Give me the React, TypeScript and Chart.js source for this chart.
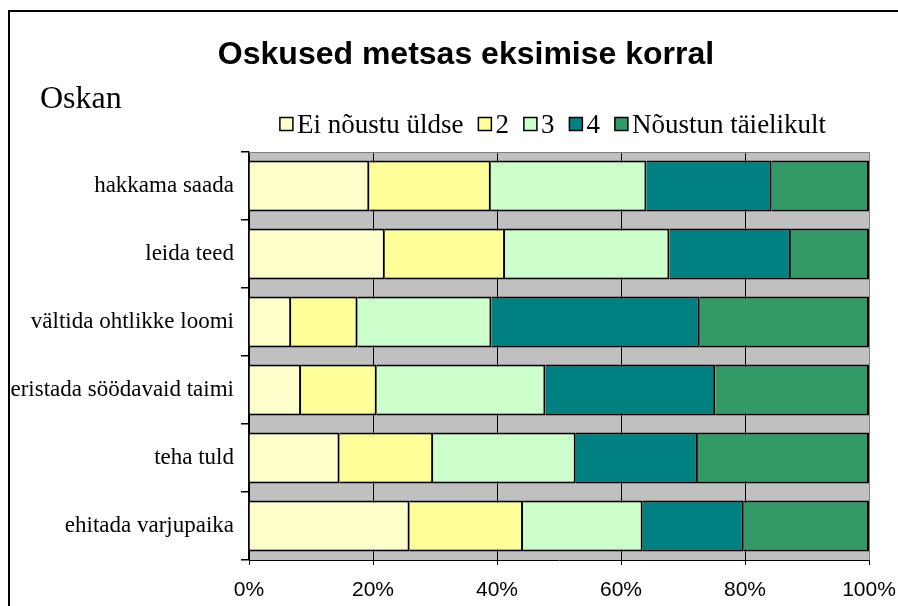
import React, { useEffect, useRef } from "react";
import { Chart, registerables } from "chart.js";

Chart.register(...registerables);

const titleText = "Oskused metsas eksimise korral";
const subTitle = "Oskan";
const categories = [
  "hakkama saada",
  "leida teed",
  "vältida ohtlikke loomi",
  "eristada söödavaid taimi",
  "teha tuld",
  "ehitada varjupaika",
];
const seriesNames = ["Ei nõustu üldse", "2", "3", "4", "Nõustun täielikult"];
const seriesColors = ["#FFFFCC", "#FFFF99", "#CCFFCC", "#008080", "#339966"];
const s1 = [19.4, 21.9, 6.8, 8.4, 14.6, 25.9];
const s2 = [19.6, 19.4, 10.7, 12.2, 15.1, 18.3];
const s3 = [25.1, 26.5, 21.6, 27.2, 23.0, 19.3];
const s4 = [20.2, 19.6, 33.6, 27.4, 19.7, 16.3];
const s5 = [15.7, 12.6, 27.3, 24.8, 27.6, 20.2];
const seriesValues = [s1, s2, s3, s4, s5];
const xTicks = [0, 20, 40, 60, 80, 100];

const SERIF = "'Liberation Serif', 'Times New Roman', serif";
const SANS = "'Liberation Sans', Arial, sans-serif";

const decorPlugin = {
  id: "decor",
  beforeDraw(chart: any) {
    const { ctx, chartArea } = chart;
    ctx.save();
    ctx.fillStyle = "#ffffff";
    ctx.fillRect(0, 0, chart.width, chart.height);
    ctx.fillStyle = "#C0C0C0";
    ctx.fillRect(chartArea.left, chartArea.top, chartArea.right - chartArea.left, chartArea.bottom - chartArea.top);
    ctx.restore();
  },
  afterDraw(chart: any) {
    const { ctx, chartArea } = chart;
    ctx.save();
    // frame
    ctx.strokeStyle = "#000";
    ctx.lineWidth = 2;
    ctx.beginPath();
    ctx.moveTo(9, chart.height);
    ctx.lineTo(9, 11);
    ctx.lineTo(chart.width, 11);
    ctx.stroke();
    // top plot border
    ctx.strokeStyle = "#808080";
    ctx.lineWidth = 1;
    ctx.beginPath();
    ctx.moveTo(chartArea.left, chartArea.top + 0.5);
    ctx.lineTo(chartArea.right, chartArea.top + 0.5);
    ctx.stroke();
    // title
    ctx.fillStyle = "#000";
    ctx.font = `bold 32px ${SANS}`;
    ctx.textAlign = "center";
    ctx.textBaseline = "alphabetic";
    ctx.fillText(titleText, 466, 64);
    // subtitle
    ctx.font = `32px ${SERIF}`;
    ctx.textAlign = "left";
    ctx.fillText(subTitle, 40, 108);
    // legend
    ctx.font = `27px ${SERIF}`;
    const box = 13;
    const boxGap = 4;
    const itemGap = 15;
    const widths = seriesNames.map((n) => ctx.measureText(n).width);
    let total = 0;
    widths.forEach((w) => (total += box + boxGap + w));
    total += itemGap * (seriesNames.length - 1);
    let x = 553 - total / 2;
    const cy = 124;
    seriesNames.forEach((n, i) => {
      ctx.fillStyle = seriesColors[i];
      ctx.fillRect(x, cy - box / 2, box, box);
      ctx.strokeStyle = "#000";
      ctx.lineWidth = 1.5;
      ctx.strokeRect(x, cy - box / 2, box, box);
      ctx.fillStyle = "#000";
      ctx.fillText(n, x + box + boxGap, 133);
      x += box + boxGap + widths[i] + itemGap;
    });
    ctx.restore();
  },
};

export default function App() {
  const ref = useRef<HTMLCanvasElement | null>(null);
  useEffect(() => {
    if (!ref.current) return;
    const chart = new Chart(ref.current, {
      type: "bar",
      data: {
        labels: categories,
        datasets: seriesValues.map((vals, i) => ({
          label: seriesNames[i],
          data: vals,
          backgroundColor: seriesColors[i],
          borderColor: "#000000",
          borderWidth: 2,
          borderSkipped: "start",
          barPercentage: 0.75,
          categoryPercentage: 1,
        })),
      },
      options: {
        indexAxis: "y",
        responsive: false,
        animation: false,
        layout: { padding: { left: 0, top: 152, right: 29, bottom: 0 } },
        plugins: {
          legend: { display: false },
          title: { display: false },
          tooltip: { enabled: false },
        },
        scales: {
          x: {
            stacked: true,
            min: 0,
            max: 100,
            afterFit: (s: any) => {
              s.height = 46;
              s.paddingLeft = 0;
              s.paddingRight = 0;
            },
            afterBuildTicks: (s: any) => {
              s.ticks = xTicks.map((v) => ({ value: v }));
            },
            ticks: {
              callback: (v: any) => `${v}%`,
              color: "#000",
              font: { family: SANS, size: 21 },
              padding: 13,
              maxRotation: 0,
            },
            grid: {
              color: (c: any) => (c.tick && c.tick.value === 100 ? "#808080" : "#000000"),
              lineWidth: 1,
              tickLength: 5,
              tickColor: "#000000",
              drawTicks: true,
            },
            border: { display: true, color: "#000000", width: 1 },
          },
          y: {
            stacked: true,
            afterFit: (s: any) => {
              s.width = 249;
              s.paddingTop = 0;
              s.paddingBottom = 0;
            },
            ticks: {
              color: "#000",
              font: { family: SERIF, size: 23 },
              padding: 7,
            },
            grid: {
              offset: true,
              drawOnChartArea: false,
              drawTicks: true,
              tickLength: 8,
              tickColor: "#000000",
              lineWidth: 1.5,
            },
            border: { display: true, color: "#000000", width: 1.5 },
          },
        },
      },
      plugins: [decorPlugin],
    });
    return () => chart.destroy();
  }, []);
  return (
    <div style={{ position: "fixed", left: 0, top: 0, width: 898, height: 606, background: "#fff" }}>
      <canvas ref={ref} width={898} height={606} style={{ display: "block" }} />
    </div>
  );
}
